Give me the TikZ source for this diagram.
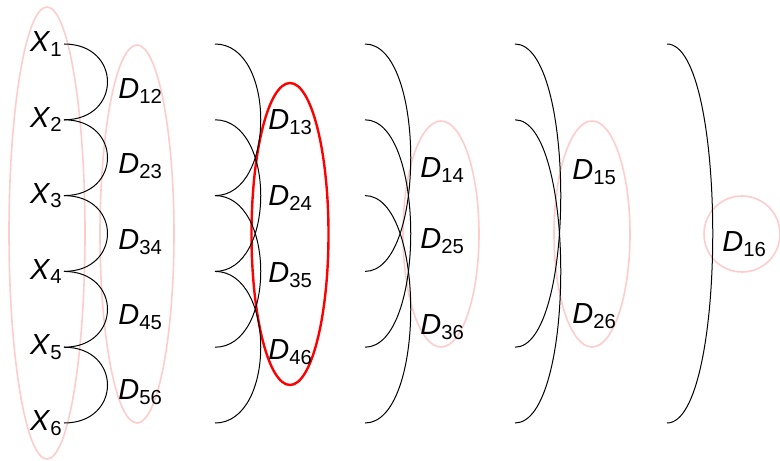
\documentclass[tikz,border=0pt]{standalone}
\usepackage{fontspec}
\setmainfont{Liberation Sans}
\newcommand{\lab}[2]{\textit{#1}\textsubscript{#2}}

\begin{document}
\begin{tikzpicture}[x=0.5pt, y=-0.5pt, font=\fontsize{14.5}{17}\selectfont,
  lbl/.style={inner sep=0.5pt, anchor=west},
  hop/.style={draw, line width=0.5pt, out=0, in=0, distance=#1},
  hop/.default=30.5pt,
  group/.style={draw=red!20, line width=0.8pt},
  pick/.style={draw=red, line width=1.2pt}]
  \useasboundingbox (0,0) rectangle (780,460);

  % groups
  \draw[group] (47,233) ellipse [x radius=38, y radius=226];
  \draw[group] (137,234) ellipse [x radius=37, y radius=189];
  \draw[pick]  (290,234) ellipse [x radius=38.5, y radius=151];
  \draw[group] (441,234) ellipse [x radius=38, y radius=113];
  \draw[group] (592,234) ellipse [x radius=38, y radius=113];
  \draw[group] (742,234) circle [radius=38];

  % variables
  \foreach \i in {1,...,6}
    \node[lbl, anchor=east] (X\i) at (64, {44+75.8*(\i-1)}) {\lab{X}{\i}};

  % free ends of the longer arcs
  \foreach \c/\x in {2/215, 3/365, 4/515, 5/667}
    \foreach \i in {1,...,6}
      \coordinate (p\c-\i) at (\x, {44+75.8*(\i-1)});

  % distances
  \node[lbl] (D12) at (117,91)  {\lab{D}{12}};
  \node[lbl] (D23) at (117,166) {\lab{D}{23}};
  \node[lbl] (D34) at (117,242) {\lab{D}{34}};
  \node[lbl] (D45) at (117,317) {\lab{D}{45}};
  \node[lbl] (D56) at (117,392) {\lab{D}{56}};
  \node[lbl] (D13) at (267,122) {\lab{D}{13}};
  \node[lbl] (D24) at (267,198) {\lab{D}{24}};
  \node[lbl] (D35) at (267,275) {\lab{D}{35}};
  \node[lbl] (D46) at (267,352) {\lab{D}{46}};
  \node[lbl] (D14) at (419,170) {\lab{D}{14}};
  \node[lbl] (D25) at (419,241) {\lab{D}{25}};
  \node[lbl] (D36) at (419,327) {\lab{D}{36}};
  \node[lbl] (D15) at (571,172) {\lab{D}{15}};
  \node[lbl] (D26) at (571,316) {\lab{D}{26}};
  \node[lbl] (D16) at (721,244) {\lab{D}{16}};

  % arcs
  \foreach \i [evaluate=\i as \j using int(\i+1)] in {1,...,5}
    \path (X\i.east) edge[hop=29pt] (X\j.east);
  \foreach \i [evaluate=\i as \j using int(\i+2)] in {1,...,4}
    \path (p2-\i) edge[hop] (p2-\j);
  \foreach \i [evaluate=\i as \j using int(\i+3)] in {1,...,3}
    \path (p3-\i) edge[hop] (p3-\j);
  \foreach \i [evaluate=\i as \j using int(\i+4)] in {1,2}
    \path (p4-\i) edge[hop] (p4-\j);
  \path (p5-1) edge[hop] (p5-6);
\end{tikzpicture}
\end{document}
